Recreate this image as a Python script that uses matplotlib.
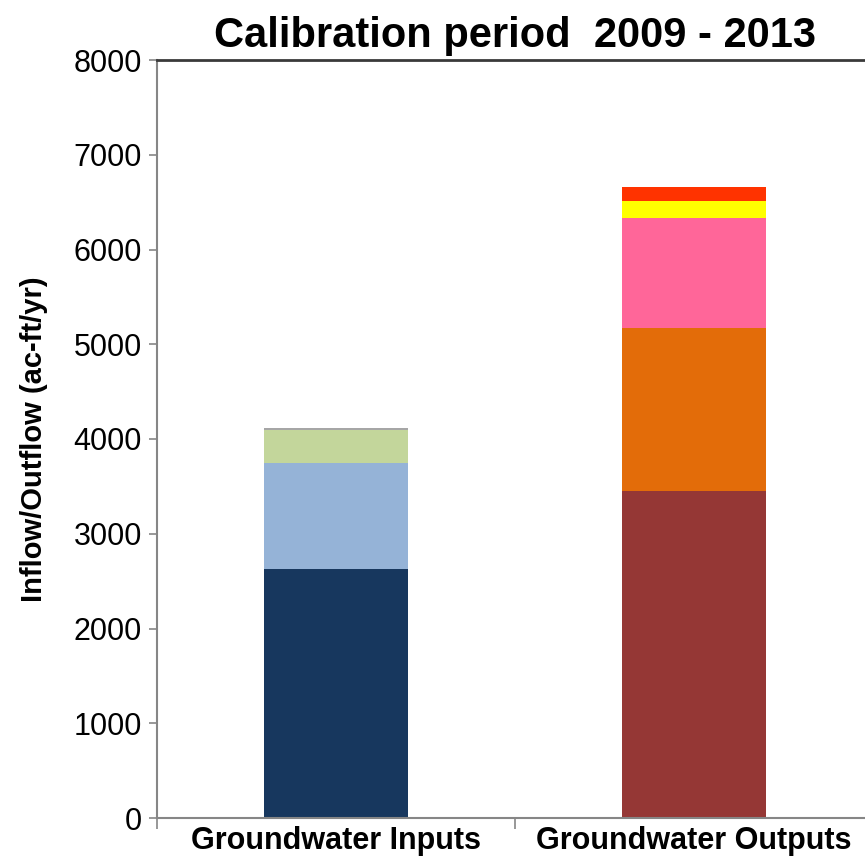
import numpy as np
import matplotlib.pyplot as plt
from matplotlib.ticker import FixedLocator

# values (ac-ft/yr)
categories = ["Groundwater Inputs", "Groundwater Outputs"]

inputs_parts = [2628, 1119, 348, 21]
inputs_colors = ["#17375E", "#95B3D7", "#C3D69B", "#A6A6A6"]

outputs_parts = [3451, 1721, 1160, 180, 148]
outputs_colors = ["#953735", "#E36C09", "#FF6699", "#FFFF00", "#FF3300"]

yticks = [0, 1000, 2000, 3000, 4000, 5000, 6000, 7000, 8000]

plt.rcParams['font.family'] = ['Liberation Sans', 'DejaVu Sans']

fig = plt.figure(figsize=(8.65, 8.61), dpi=100)
ax = fig.add_axes([157 / 865, 1 - 818 / 861, 716 / 865, 758 / 861])

x = np.arange(len(categories))
width = 0.405

# stack each bar
bottom = 0
for val, col in zip(inputs_parts, inputs_colors):
    ax.bar(x[0], val, width, bottom=bottom, color=col, linewidth=0)
    bottom += val

bottom = 0
for val, col in zip(outputs_parts, outputs_colors):
    ax.bar(x[1], val, width, bottom=bottom, color=col, linewidth=0)
    bottom += val

ax.set_xlim(-0.5, 1.5)
ax.set_ylim(0, 8000)
ax.set_yticks(yticks)
ax.set_yticklabels([str(v) for v in yticks], fontsize=22)

# category labels centred under bars, ticks between categories
ax.xaxis.set_major_locator(FixedLocator([-0.5, 0.5, 1.5]))
ax.set_xticklabels([])
ax.xaxis.set_minor_locator(FixedLocator(x))
ax.set_xticklabels(categories, minor=True, fontsize=22, fontweight='bold')
ax.tick_params(axis='x', which='minor', length=0, pad=6)
ax.tick_params(axis='x', which='major', length=8, width=1.2, color='#868686')
ax.tick_params(axis='y', length=6, width=1.2, color='#868686', pad=5)

ax.spines['right'].set_visible(False)
ax.spines['left'].set_color('#868686')
ax.spines['left'].set_linewidth(1.5)
ax.spines['bottom'].set_color('#868686')
ax.spines['bottom'].set_linewidth(1.5)
ax.spines['top'].set_color('#3a3a3a')
ax.spines['top'].set_linewidth(2)

ax.set_ylabel("Inflow/Outflow (ac-ft/yr)", fontsize=21, fontweight='bold', labelpad=18)
ax.set_title("Calibration period  2009 - 2013", fontsize=30, fontweight='bold', pad=9)

fig.savefig("out.png", dpi=100)
